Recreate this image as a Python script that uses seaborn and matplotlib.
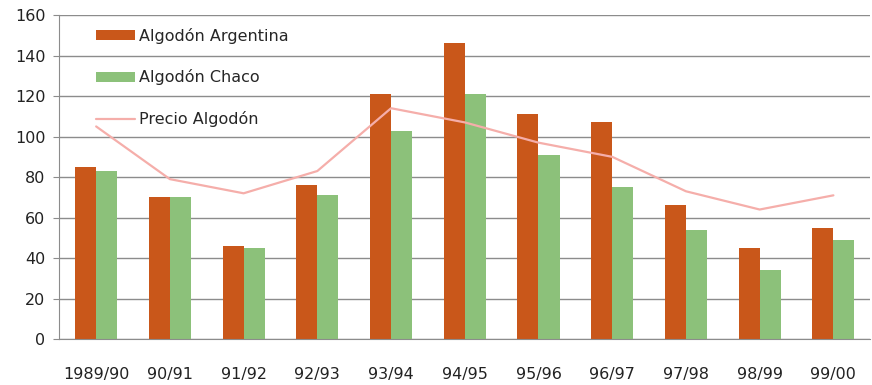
import matplotlib
matplotlib.use("Agg")
import matplotlib.pyplot as plt
import seaborn as sns
import numpy as np
import pandas as pd
from matplotlib.patches import Patch
from matplotlib.lines import Line2D

seasons = ["1989/90", "90/91", "91/92", "92/93", "93/94", "94/95",
           "95/96", "96/97", "97/98", "98/99", "99/00"]
argentina = [85, 70, 46, 76, 121, 146, 111, 107, 66, 45, 55]
chaco = [83, 70, 45, 71, 103, 121, 91, 75, 54, 34, 49]
precio = [105, 79, 72, 83, 114, 107, 97, 90, 73, 64, 71]

series_names = ["Algodón Argentina", "Algodón Chaco", "Precio Algodón"]
c_arg = "#C9571A"
c_cha = "#8CC17A"
c_pre = "#F5AEAA"

df = pd.DataFrame({
    "season": seasons * 2,
    "value": argentina + chaco,
    "serie": [series_names[0]] * len(seasons) + [series_names[1]] * len(seasons),
})

sns.set_style("white")
plt.rcParams["font.family"] = ["DejaVu Sans"]

fig = plt.figure(figsize=(8.72, 3.85), dpi=100)
ax = fig.add_axes([0.068, 0.119, 0.930, 0.842])

sns.barplot(data=df, x="season", y="value", hue="serie", order=seasons,
            hue_order=series_names[:2], palette=[c_arg, c_cha],
            width=0.57, gap=0, saturation=1, ax=ax, legend=False,
            linewidth=0, errorbar=None)

sns.lineplot(x=np.arange(len(seasons)), y=precio, ax=ax, color=c_pre,
             linewidth=1.6, legend=False)

ax.set_ylim(0, 160)
ax.set_xlim(-0.5, len(seasons) - 0.5)
ax.set_yticks(range(0, 161, 20))
ax.yaxis.grid(True, color="#8C8C8C", linewidth=1)
ax.set_axisbelow(True)
ax.set_xlabel("")
ax.set_ylabel("")
for s in ["top", "right"]:
    ax.spines[s].set_visible(False)
ax.spines["left"].set_color("#8C8C8C")
ax.spines["bottom"].set_color("#8C8C8C")

ax.set_xticks(np.arange(len(seasons)))
ax.set_xticklabels(seasons)
ax.set_xticks(np.arange(len(seasons) + 1) - 0.5, minor=True)
ax.tick_params(axis="x", which="major", length=0, pad=20, labelsize=11.5, colors="#222222")
ax.tick_params(axis="x", which="minor", length=5, color="#8C8C8C", width=1)
ax.tick_params(axis="y", length=4, color="#8C8C8C", labelsize=11.5, colors="#222222", pad=6)
ax.tick_params(axis="y", left=True)

handles = [Patch(facecolor=c_arg, edgecolor="none"),
           Patch(facecolor=c_cha, edgecolor="none"),
           Line2D([], [], color=c_pre, linewidth=1.6)]
ax.legend(handles, series_names, loc="upper left", bbox_to_anchor=(0.027, 1.005),
          frameon=False, fontsize=11.5, handlelength=2.5, handleheight=0.6,
          labelspacing=1.6, handletextpad=0.25)

fig.savefig("out.png", dpi=100)
